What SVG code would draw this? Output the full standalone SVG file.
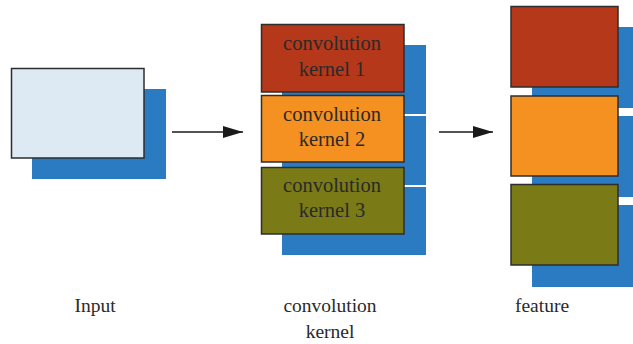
<svg xmlns="http://www.w3.org/2000/svg" width="633" height="344" viewBox="0 0 633 344">
<style>
.back{fill:#2a7bc2}
.front{stroke:#2e2e2e;stroke-width:1.5}
.t{font-family:"Liberation Serif","Times New Roman",serif;fill:#2a2a2a;text-anchor:middle}
.box{font-size:20.5px}
.lbl{font-size:19.5px}
.arr{stroke:#1a1a1a;stroke-width:1.3;fill:none}
</style>
<defs>
<marker id="ah" viewBox="0 0 20 12" refX="20" refY="6" markerWidth="20" markerHeight="12" markerUnits="userSpaceOnUse" orient="auto">
<path d="M0,0 L20,6 L0,12 Z" fill="#1a1a1a"/>
</marker>
</defs>
<rect width="633" height="344" fill="#ffffff"/>
<g id="input">
<rect class="back" x="32" y="89" width="134" height="90"/>
<rect class="front" x="11.5" y="68.5" width="132.5" height="89.5" fill="#dde9f3"/>
</g>
<g id="kernel1">
<rect class="back" x="282" y="45" width="144" height="69"/>
<rect class="front" x="261.5" y="24.5" width="142.5" height="67.5" fill="#b5381a"/>
<text class="t box" x="332" y="50">convolution</text>
<text class="t box" x="332" y="76">kernel 1</text>
</g>
<g id="kernel2">
<rect class="back" x="282" y="116" width="144" height="69"/>
<rect class="front" x="261.5" y="95.5" width="142.5" height="66.5" fill="#f59121"/>
<text class="t box" x="332" y="121">convolution</text>
<text class="t box" x="332" y="146">kernel 2</text>
</g>
<g id="kernel3">
<rect class="back" x="282" y="187" width="144" height="68"/>
<rect class="front" x="261.5" y="167.5" width="142.5" height="66.5" fill="#7a7a17"/>
<text class="t box" x="332" y="192">convolution</text>
<text class="t box" x="332" y="217">kernel 3</text>
</g>
<g id="feature1">
<rect class="back" x="532" y="27" width="101" height="81"/>
<rect class="front" x="511" y="6.5" width="107" height="80.5" fill="#b5381a"/>
</g>
<g id="feature2">
<rect class="back" x="532" y="116" width="101" height="81"/>
<rect class="front" x="511" y="96" width="107" height="80" fill="#f59121"/>
</g>
<g id="feature3">
<rect class="back" x="532" y="205" width="101" height="82"/>
<rect class="front" x="511" y="184.5" width="107" height="80.5" fill="#7a7a17"/>
</g>
<g id="connectors">
<line class="arr" x1="172" y1="132" x2="243" y2="132" marker-end="url(#ah)"/>
<line class="arr" x1="439" y1="132" x2="493" y2="132" marker-end="url(#ah)"/>
</g>
<g id="labels">
<text class="t lbl" x="95" y="312">Input</text>
<text class="t lbl" x="330" y="312">convolution</text>
<text class="t lbl" x="330" y="338">kernel</text>
<text class="t lbl" x="542" y="312">feature</text>
</g>
</svg>
